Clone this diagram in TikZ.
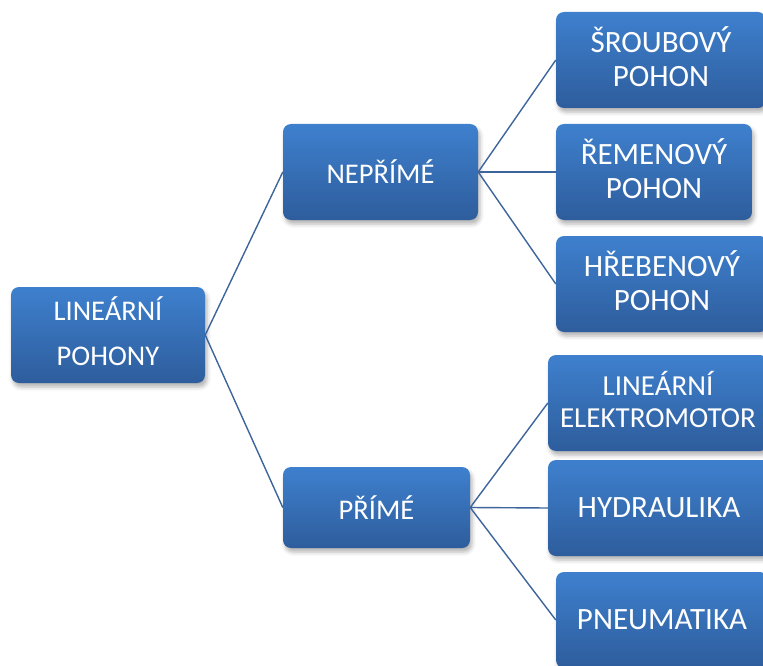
\documentclass[tikz,border=0pt]{standalone}
\usepackage{fontspec}
\setmainfont{Carlito}
\usetikzlibrary{shadows.blur}
\definecolor{boxtop}{RGB}{62,128,206}
\definecolor{boxbot}{RGB}{46,93,156}
\definecolor{conn}{RGB}{62,100,156}
\tikzset{
  box/.style={rounded corners=8pt, top color=boxtop, bottom color=boxbot,
    text=white, align=center, inner sep=0pt,
    blur shadow={shadow xshift=2pt, shadow yshift=-4pt, shadow blur radius=4pt, shadow opacity=30}},
  twoline/.style={text depth=7pt},
  link/.style={draw=conn, line width=1.4pt},
  fa/.style={font=\fontsize{28.5}{34}\selectfont},
  fb/.style={font=\fontsize{31}{34}\selectfont},
}
\begin{document}
\begin{tikzpicture}[x=1pt,y=-1pt]
\useasboundingbox (0,0) rectangle (763,666);
\node[box, twoline, font=\fontsize{28.5}{45}\selectfont, minimum width=194pt, minimum height=96pt] (root) at (108,335) {LINEÁRNÍ\\POHONY};
\node[box, fa, minimum width=195pt, minimum height=96pt] (nep) at (380.5,172) {NEPŘÍMÉ};
\node[box, fa, minimum width=187pt, minimum height=81pt] (pri) at (376.5,507.5) {PŘÍMÉ};
\node[box, fb, twoline, minimum width=210pt, minimum height=96pt] (s1) at (661,60) {ŠROUBOVÝ\\POHON};
\node[box, fb, twoline, minimum width=196pt, minimum height=96pt] (s2) at (654,172) {ŘEMENOVÝ\\POHON};
\node[box, fb, twoline, minimum width=212pt, minimum height=96pt] (s3) at (662,284) {HŘEBENOVÝ\\POHON};
\node[box, twoline, font=\fontsize{29}{32}\selectfont, minimum width=220pt, minimum height=96pt] (p1) at (658,403) {LINEÁRNÍ\\ELEKTROMOTOR};
\node[box, fb, minimum width=222pt, minimum height=96pt] (p2) at (659,508) {HYDRAULIKA};
\node[box, fb, minimum width=212pt, minimum height=96pt] (p3) at (662,620) {PNEUMATIKA};
\draw[link] (root.east) -- (nep.west);
\draw[link] (root.east) -- (pri.west);
\draw[link] (nep.east) -- (s1.west);
\draw[link] (nep.east) -- (s2.west);
\draw[link] (nep.east) -- (s3.west);
\draw[link] (pri.east) -- (p1.west);
\draw[link] (pri.east) -- (p2.west);
\draw[link] (pri.east) -- (p3.west);
\end{tikzpicture}
\end{document}
